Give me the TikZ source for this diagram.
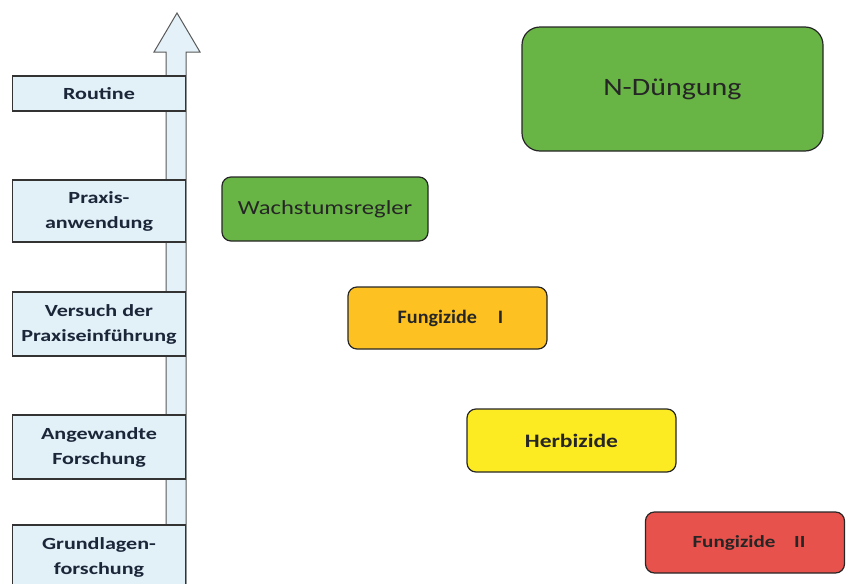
\documentclass[tikz,border=0pt]{standalone}
\usepackage{fontspec}
\setmainfont{Carlito}
\newfontfamily\lvlfont[FakeStretch=1.3]{Carlito}
\newfontfamily\fdung[FakeStretch=1.2]{Carlito}
\newfontfamily\fwachs[FakeStretch=1.23]{Carlito}
\newfontfamily\ffungA[FakeStretch=1.06]{Carlito}
\newfontfamily\fherb[FakeStretch=1.24]{Carlito}
\newfontfamily\ffungB[FakeStretch=1.24]{Carlito}
\begin{document}
\begin{tikzpicture}[x=1pt,y=-1pt,
  lvl/.style={draw=black!80,line width=1.2pt,fill=lvlfill,text=navy,font=\lvlfont\bfseries\fontsize{17}{25}\selectfont,align=center,inner sep=0pt},
  item/.style={draw=black!85,line width=1.2pt,rounded corners=9pt,inner sep=0pt,text=black!85}]
\definecolor{lvlfill}{HTML}{E2F0F8}
\definecolor{navy}{HTML}{1B2638}
\definecolor{arrowfill}{HTML}{E4F1F8}
\definecolor{grn}{HTML}{68B445}
\definecolor{org}{HTML}{FDC222}
\definecolor{ylw}{HTML}{FCEA22}
\definecolor{red}{HTML}{E8524C}
\useasboundingbox (0,0) rectangle (847,584);
\clip (0,0) rectangle (847,584);
% arrow
\draw[draw=black!65,line width=1pt,fill=arrowfill] (166,600) -- (166,52) -- (154,52) -- (177,13) -- (200,52) -- (186,52) -- (186,600) -- cycle;
% level boxes
\node[lvl,minimum width=173pt,minimum height=35pt] (routine) at (99,93.5) {Routine};
\node[lvl,minimum width=173pt,minimum height=62pt] (praxis) at (99,211) {Praxis-\\anwendung};
\node[lvl,minimum width=173pt,minimum height=64pt] (versuch) at (99,324) {Versuch der\\Praxiseinführung};
\node[lvl,minimum width=173pt,minimum height=64pt] (angew) at (99,447) {Angewandte\\Forschung};
\node[lvl,minimum width=173pt,minimum height=64pt] (grund) at (99,557) {Grundlagen-\\forschung};
% items
\node[item,fill=grn,rounded corners=18pt,minimum width=301pt,minimum height=124pt,font=\fdung\fontsize{25}{30}\selectfont] (dung) at (672.5,89) {N-Düngung};
\node[item,fill=grn,minimum width=206pt,minimum height=64pt,font=\fwachs\fontsize{20}{24}\selectfont] (wachs) at (325,209) {Wachstumsregler};
\node[item,fill=org,minimum width=199pt,minimum height=62pt,font=\ffungA\bfseries\fontsize{19}{23}\selectfont] (fung1) at (447.5,318) {\hspace{6pt}Fungizide\hspace{1.1em}I};
\node[item,fill=ylw,minimum width=209pt,minimum height=63pt,font=\fherb\bfseries\fontsize{19}{23}\selectfont] (herb) at (571.5,440.5) {Herbizide};
\node[item,fill=red,minimum width=199pt,minimum height=61pt,font=\ffungB\bfseries\fontsize{17}{21}\selectfont] (fung2) at (745,542.5) {\hspace{8pt}Fungizide\hspace{1.1em}II};
\end{tikzpicture}
\end{document}
